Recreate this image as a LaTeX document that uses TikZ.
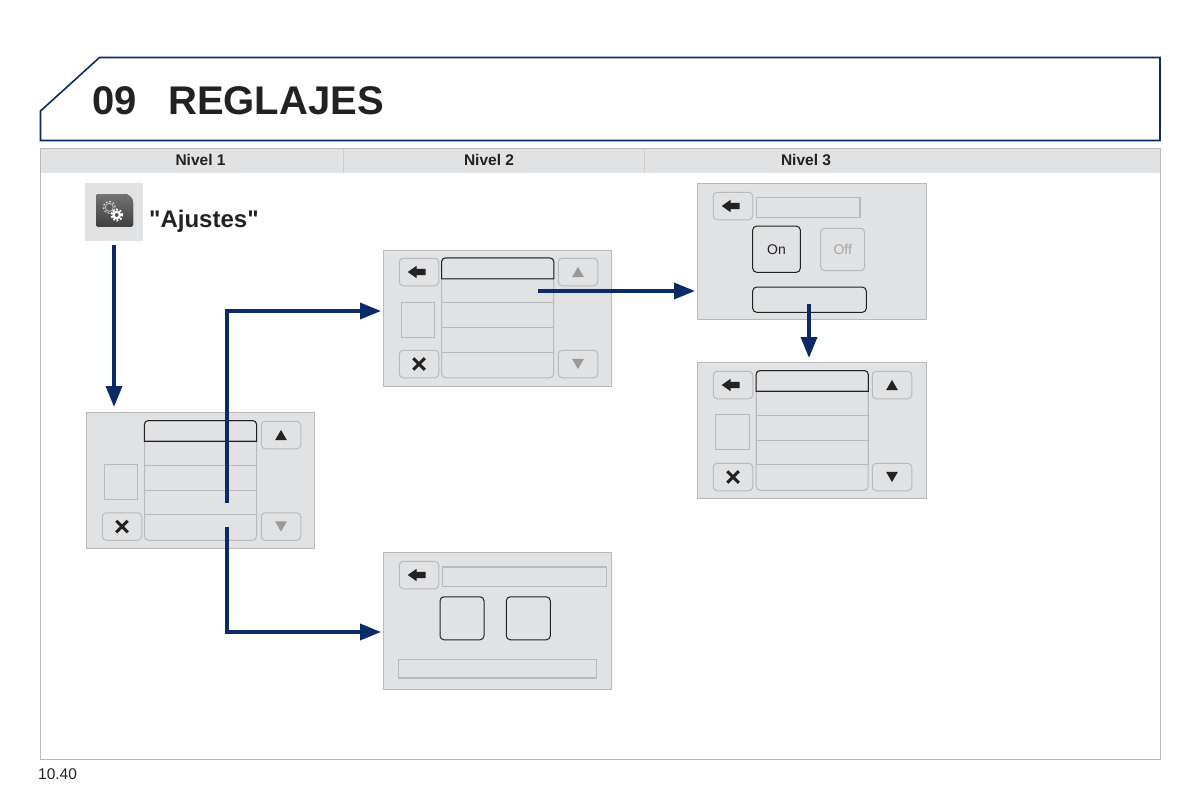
\documentclass[tikz,border=0pt]{standalone}
\usepackage{fontspec}
\setmainfont[Ligatures=TeXOff]{Liberation Sans}
\usetikzlibrary{arrows.meta,positioning,shapes.geometric,shapes.arrows,shapes.misc}
\definecolor{panel}{HTML}{E1E2E4}
\definecolor{edge}{HTML}{B9BABC}
\definecolor{ink}{HTML}{222222}
\definecolor{navy}{HTML}{0B2A68}
\begin{document}
\begin{tikzpicture}[
            x=1pt,y=-1pt,
            screen/.style={draw=edge,fill=panel,line width=1,minimum width=228.5,minimum height=136.5,inner sep=0},
            btn/.style={draw=edge,fill=panel,line width=1,rounded corners=4,minimum width=39.5,minimum height=27.5,inner sep=0},
            square/.style={draw=edge,line width=1,minimum width=33.5,minimum height=35.5,inner sep=0},
            listbody/.style={draw=edge,line width=1,rounded corners=4,minimum width=112,minimum height=119.5,inner sep=0},
            row/.style={draw=edge,line width=1,minimum width=112,minimum height=24.7,inner sep=0,node distance=24.7},
            tab/.style={minimum width=112,minimum height=20.5,inner sep=0},
            outline/.style={draw=ink,line width=1,rounded corners=4},
            bar/.style={draw=edge,line width=1.3,inner sep=0},
            choice/.style={outline,minimum width=44,minimum height=43,inner sep=0},
            backtip/.style={single arrow,shape border rotate=180,fill=ink,minimum height=18,single arrow head extend=3,single arrow tip angle=70,inner xsep=0,inner ysep=3},
            closetip/.style={cross out,draw=ink,line width=3,minimum size=8.5,inner sep=0},
            uptip/.style={regular polygon,regular polygon sides=3,fill=#1,minimum size=13.5,inner sep=0,yshift=-1.7},
            downtip/.style={regular polygon,regular polygon sides=3,shape border rotate=180,fill=#1,minimum size=13.5,inner sep=0,yshift=1.7},
            gear/.style={circle,draw=#1,dash pattern=on 1.8 off 1.8,line width=2,inner sep=0},
            flow/.style={draw=navy,line width=3.5,-{Triangle[length=21,width=16]}}
          ]
          \useasboundingbox (0,0) rectangle (1200,800);
          \fill[white] (0,0) rectangle (1200,800);

          %page frame and title
          \draw[navy,line width=1.6] (40.5,111) -- (99.5,57.5) -- (1160,57.5) -- (1160,140.5) -- (40.5,140.5) -- cycle;
          \node[font=\fontsize{40}{48}\selectfont\bfseries,text=ink,anchor=base west,inner sep=0] (num) at (92,114) {09};
          \node[font=\fontsize{40}{48}\selectfont\bfseries,text=ink,anchor=base west,inner sep=0] (title) at (168,114) {REGLAJES};
          \node[minimum width=1120,minimum height=24,fill=panel,inner sep=0] (band) at (600,160.5) {};
          \draw[edge,line width=1] (40,148.5) rectangle (1160,759.5);
          \draw[white!80!black,line width=1] (343,149) -- (343,172);
          \draw[white!80!black,line width=1] (644.5,149) -- (644.5,172);
          \node[font=\fontsize{15.5}{18}\selectfont\bfseries,text=ink] (lev1) at (200.5,160) {Nivel 1};
          \node[font=\fontsize{15.5}{18}\selectfont\bfseries,text=ink] (lev2) at (489,160) {Nivel 2};
          \node[font=\fontsize{15.5}{18}\selectfont\bfseries,text=ink] (lev3) at (806,160) {Nivel 3};
          \node[font=\fontsize{15.5}{18}\selectfont,text=ink,anchor=base west,inner sep=0] (page) at (38,779) {10.40};

          %icon
          \node[fill=panel,minimum width=58,minimum height=58,inner sep=0] (icon) at (114,211.5) {};
          \fill[top color=black!55,bottom color=black!75,rounded corners=1.5] (96,226.5) -- (96,194) [rounded corners=9] -- (133,194) [rounded corners=1.5] -- (133,226.5) -- cycle;
          \node[gear=black!15,line width=1.2,minimum size=11.5] (gear1) at (109.3,207.3) {};
          \node[circle,draw=black!15,line width=.6,minimum size=8,inner sep=0] (gear4) at (109.3,207.3) {};
          \node[gear=white,minimum size=11] (gear2) at (116.7,215) {};
          \node[circle,draw=white,line width=2.2,minimum size=6.5,inner sep=0] (gear3) at (116.7,215) {};
          \node[font=\fontsize{24}{28}\selectfont\bfseries,text=ink,anchor=base west,inner sep=0] (name) at (149,227) {"Ajustes"};

          %level 1 screen
          \node[screen] (s1) at (200.5,480.5) {};
          \node[listbody] (list1) at (200.5,480.5) {};
          \node[tab] (tab1) at (200.5,431) {};
          \node[row] (r11) at (200.5,453.2) {};
          \node[row,below of = r11] (r12) {};
          \node[row,below of = r12] (r13) {};
          \draw[outline,sharp corners] (tab1.south west) [rounded corners=4] -- (tab1.north west) -- (tab1.north east) [sharp corners] -- (tab1.south east) -- cycle;
          \node[square] (sq1) at (121,482) {};
          \node[btn] (up1) at (281,435) {};
          \node[btn,below of = up1,node distance=91.5] (down1) {};
          \node[btn,left of = down1,node distance=159] (close1) {};
          \node[uptip=ink] (up1tip) at (up1) {};
          \node[downtip=black!40] (down1tip) at (down1) {};
          \node[closetip] (close1tip) at (close1) {};

          %level 2 screen with list
          \node[screen] (s2) at (497.5,318.5) {};
          \node[listbody] (list2) at (497.7,318) {};
          \node[tab] (tab2) at (497.7,268.3) {};
          \node[row] (r21) at (497.7,290.5) {};
          \node[row,below of = r21] (r22) {};
          \node[row,below of = r22] (r23) {};
          \draw[outline,sharp corners] (tab2.south west) [rounded corners=4] -- (tab2.north west) -- (tab2.north east) [sharp corners] -- (tab2.south east) -- cycle;
          \node[square] (sq2) at (418,320) {};
          \node[btn] (back2) at (419,272) {};
          \node[btn,below of = back2,node distance=92] (close2) {};
          \node[btn,right of = back2,node distance=159] (up2) {};
          \node[btn,below of = up2,node distance=92] (down2) {};
          \node[backtip] (back2tip) at (back2) {};
          \node[closetip] (close2tip) at (close2) {};
          \node[uptip=black!40] (up2tip) at (up2) {};
          \node[downtip=black!40] (down2tip) at (down2) {};

          %level 2 screen with two squares
          \node[screen] (s5) at (497.5,621) {};
          \node[btn] (back5) at (419,575) {};
          \node[bar,minimum width=164,minimum height=19.5] (head5) at (524.3,576.8) {};
          \node[choice] (left5) at (462,618.3) {};
          \node[choice,right of = left5,node distance=66.3] (right5) {};
          \node[bar,minimum width=198.5,minimum height=18.3] (foot5) at (497.5,668.8) {};
          \node[backtip] (back5tip) at (back5) {};

          %level 3 on/off screen
          \node[screen] (s4) at (812,251.7) {};
          \node[btn] (back4) at (733,206) {};
          \node[bar,minimum width=103.5,minimum height=20] (head4) at (808.2,207.7) {};
          \node[outline,minimum width=47.6,minimum height=46.3,inner sep=0,font=\fontsize{14}{16}\selectfont,text=ink] (on4) at (776.5,249.2) {On};
          \node[draw=edge,line width=1,rounded corners=4,minimum width=44,minimum height=42.4,inner sep=0,font=\fontsize{14}{16}\selectfont,text=black!35] (off4) at (842.7,249.5) {Off};
          \node[outline,minimum width=113.6,minimum height=25.3,inner sep=0] (foot4) at (809.5,299.7) {};
          \node[backtip] (back4tip) at (back4) {};

          %level 3 list screen
          \node[screen] (s3) at (812,430.5) {};
          \node[listbody] (list3) at (812.2,430.5) {};
          \node[tab] (tab3) at (812.2,381) {};
          \node[row] (r31) at (812.2,403) {};
          \node[row,below of = r31] (r32) {};
          \node[row,below of = r32] (r33) {};
          \draw[outline,sharp corners] (tab3.south west) [rounded corners=4] -- (tab3.north west) -- (tab3.north east) [sharp corners] -- (tab3.south east) -- cycle;
          \node[square] (sq3) at (732.5,432) {};
          \node[btn] (back3) at (733,385) {};
          \node[btn,below of = back3,node distance=92] (close3) {};
          \node[btn,right of = back3,node distance=159] (up3) {};
          \node[btn,below of = up3,node distance=92] (down3) {};
          \node[backtip] (back3tip) at (back3) {};
          \node[closetip] (close3tip) at (close3) {};
          \node[uptip=ink] (up3tip) at (up3) {};
          \node[downtip=ink] (down3tip) at (down3) {};

          %arrows
          \coordinate (from2) at (227,503);
          \coordinate (in2) at (381,311);
          \coordinate (from5) at (227,527);
          \coordinate (in5) at (381,632);
          \coordinate (from4) at (538,291);
          \coordinate (in4) at (695,291);
          \coordinate (from3) at (809,304);
          \coordinate (in3) at (809,358);
          \path[flow] (icon.south) ++(0,4) -- (114,407);
          \path[flow] (from2) |- (in2);
          \path[flow] (from5) |- (in5);
          \path[flow] (from4) -- (in4);
          \path[flow] (from3) -- (in3);
      \end{tikzpicture}
\end{document}
